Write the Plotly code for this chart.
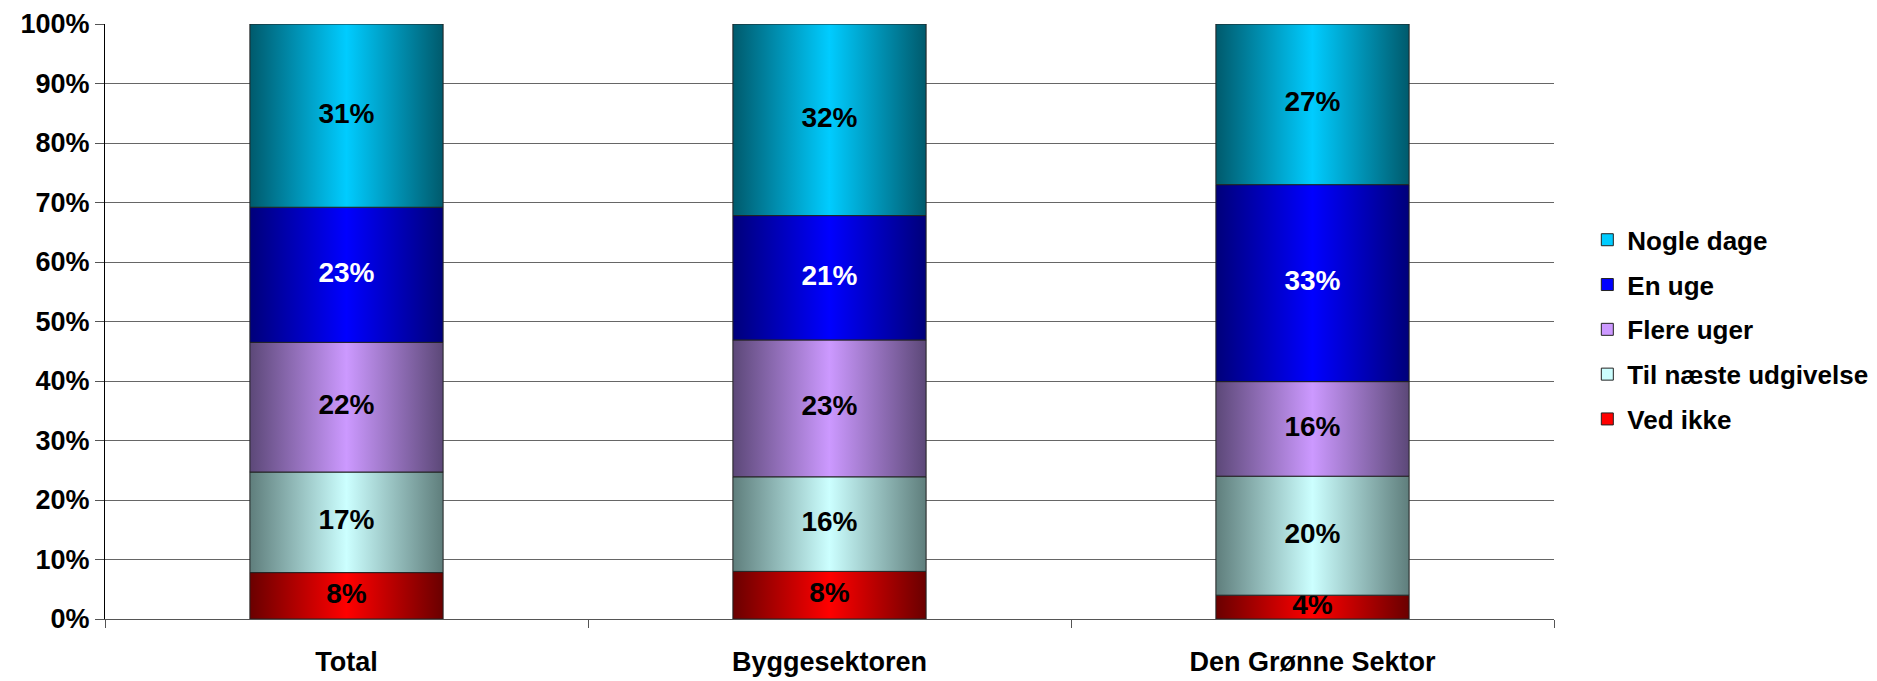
import plotly.graph_objects as go

# categories (x) and stacked shares per answer, bottom -> top
categories = ["Total", "Byggesektoren", "Den Grønne Sektor"]
ved_ikke = [0.078, 0.080, 0.040]
til_naeste = [0.169, 0.159, 0.200]
flere_uger = [0.218, 0.230, 0.159]
en_uge = [0.227, 0.209, 0.331]
nogle_dage = [0.308, 0.322, 0.270]

y_ticks = [i / 10 for i in range(11)]

FONT = "Liberation Sans, Arial, sans-serif"
BAR_HALF = 0.2

# name, values, (edge colour, centre colour), label colour
series = [
    ("Ved ikke", ved_ikke, ("#6a0000", "#ff0000"), "black"),
    ("Til næste udgivelse", til_naeste, ("#5f7e7c", "#ccffff"), "black"),
    ("Flere uger", flere_uger, ("#5c4878", "#cc99ff"), "black"),
    ("En uge", en_uge, ("#00007a", "#0000ff"), "white"),
    ("Nogle dage", nogle_dage, ("#005a6c", "#00ccff"), "black"),
]

fig = go.Figure()
base = [0.0] * len(categories)
for k, (name, vals, (dark, bright), txtcol) in enumerate(series):
    mids = []
    for i, v in enumerate(vals):
        b, t = base[i], base[i] + v
        fig.add_trace(go.Scatter(
            x=[i - BAR_HALF, i + BAR_HALF, i + BAR_HALF, i - BAR_HALF, i - BAR_HALF],
            y=[b, b, t, t, b],
            mode="lines", fill="toself",
            fillgradient=dict(type="horizontal",
                              colorscale=[[0, dark], [0.5, bright], [1, dark]]),
            fillcolor=bright,
            line=dict(color="#222222", width=1),
            legendgroup=name, showlegend=False, hoverinfo="skip",
        ))
        mids.append((b + t) / 2)
        base[i] = t
    fig.add_trace(go.Scatter(
        x=list(range(len(categories))), y=mids, mode="text",
        text=[f"{round(v * 100)}%" for v in vals],
        textfont=dict(family=FONT, size=28, color=txtcol, weight="bold"),
        legendgroup=name, showlegend=False, hoverinfo="skip",
    ))
    # legend swatch
    fig.add_trace(go.Bar(
        x=[None], y=[None], name=name, legendgroup=name,
        legendrank=len(series) - k,
        marker=dict(color=bright, line=dict(color="#222222", width=1)),
    ))

# page body keeps its default 8px margin, so the figure is 8px smaller
fig.update_layout(
    width=1869, height=673,
    margin=dict(l=97, r=323, t=16, b=62, autoexpand=False),
    paper_bgcolor="white", plot_bgcolor="white",
    font=dict(family=FONT, color="black", weight="bold"),
    showlegend=True,
    legend=dict(
        x=1.023, y=0.486, xanchor="left", yanchor="middle",
        traceorder="grouped", tracegroupgap=8,
        font=dict(family=FONT, size=26, color="black", weight="bold"),
        itemwidth=30,
    ),
)
fig.update_xaxes(
    range=[-0.5, 2.5], tickvals=list(range(len(categories))), ticktext=categories,
    ticks="", showgrid=False, zeroline=False, automargin=False,
    showline=True, linecolor="#555555", linewidth=1,
    tickfont=dict(family=FONT, size=27, color="black", weight="bold"),
    ticklabelstandoff=19,
    minor=dict(tickvals=[-0.5, 0.5, 1.5, 2.5], ticks="outside", ticklen=8,
               tickcolor="#555555", showgrid=False),
)
fig.update_yaxes(
    range=[0, 1], tickvals=y_ticks, tickformat=".0%",
    ticks="outside", ticklen=9, tickcolor="#555555", automargin=False,
    showgrid=True, gridcolor="#666666", gridwidth=1, zeroline=False,
    showline=True, linecolor="black", linewidth=1,
    tickfont=dict(family=FONT, size=27, color="black", weight="bold"),
)

fig.write_html("out.html")
